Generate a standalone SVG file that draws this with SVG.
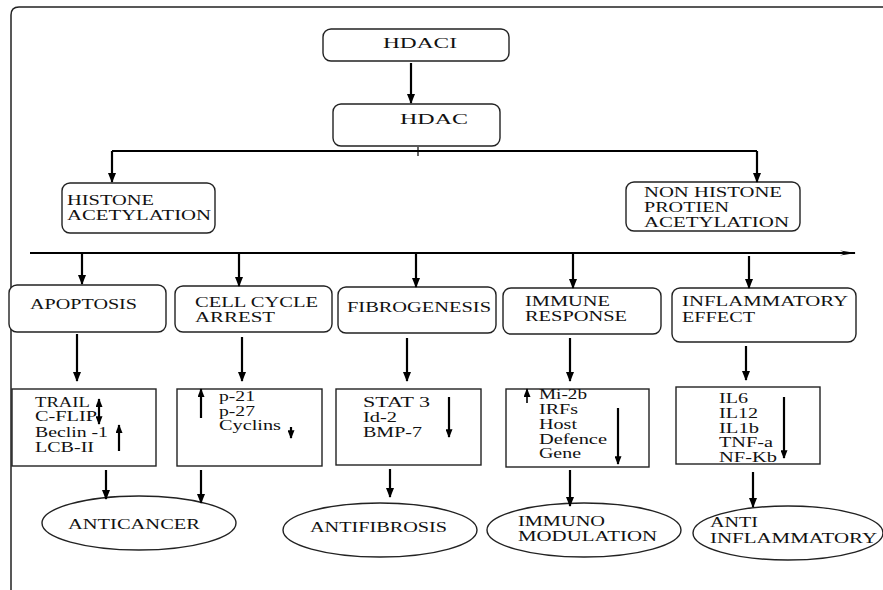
<svg xmlns="http://www.w3.org/2000/svg" width="883" height="590" viewBox="0 0 883 590">
<defs>
<marker id="ah" viewBox="0 0 10 8" refX="9" refY="4" markerWidth="10" markerHeight="8" markerUnits="userSpaceOnUse" orient="auto-start-reverse">
<path d="M0,0 L10,4 L0,8 z" fill="#000"/>
</marker>
<marker id="ahs" viewBox="0 0 10 8" refX="9" refY="4" markerWidth="9" markerHeight="7" markerUnits="userSpaceOnUse" orient="auto-start-reverse">
<path d="M0,0 L10,4 L0,8 z" fill="#000"/>
</marker>
<marker id="open" viewBox="0 0 16 6" refX="15" refY="3" markerWidth="16" markerHeight="6" markerUnits="userSpaceOnUse" orient="auto">
<path d="M0,0.5 L16,3 L0,5.5 L6,3 z" fill="#000"/>
</marker>
</defs>
<style>
.box{fill:#fff;stroke:#222;stroke-width:1.4}
.sq{fill:#fff;stroke:#222;stroke-width:1.4}
text{font-family:'Liberation Serif','DejaVu Serif',serif;font-size:14px;fill:#111}
.c line,.c path{stroke:#000;stroke-width:2.2;fill:none}
.a{marker-end:url(#ah)}
.s{marker-end:url(#ahs)}
</style>
<path d="M11,590 L11,15 Q11,7 19,7 L883,7" fill="none" stroke="#222" stroke-width="1.5"/>

<g id="hdaci"><rect class="box" x="323" y="29" width="186" height="32" rx="8"/><text x="383" y="48" textLength="74" lengthAdjust="spacingAndGlyphs" font-size="16">HDACI</text></g>
<g id="hdac"><rect class="box" x="333" y="104" width="167" height="42" rx="8"/><text x="400" y="124" textLength="68" lengthAdjust="spacingAndGlyphs" font-size="16">HDAC</text></g>
<g id="histone"><rect class="box" x="62" y="183" width="153" height="50" rx="8"/><text x="67" y="205" textLength="87" lengthAdjust="spacingAndGlyphs">HISTONE</text><text x="67" y="220" textLength="144" lengthAdjust="spacingAndGlyphs">ACETYLATION</text></g>
<g id="nonhistone"><rect class="box" x="626" y="182" width="174" height="49" rx="8"/><text x="644" y="197" textLength="138" lengthAdjust="spacingAndGlyphs">NON HISTONE</text><text x="644" y="212" textLength="85" lengthAdjust="spacingAndGlyphs">PROTIEN</text><text x="644" y="227" textLength="145" lengthAdjust="spacingAndGlyphs">ACETYLATION</text></g>

<g id="apoptosis"><rect class="box" x="9" y="285" width="157" height="47" rx="8"/><text x="30" y="309" textLength="107" lengthAdjust="spacingAndGlyphs">APOPTOSIS</text></g>
<g id="cellcycle"><rect class="box" x="175" y="286" width="157" height="46" rx="8"/><text x="195" y="307" textLength="123" lengthAdjust="spacingAndGlyphs">CELL CYCLE</text><text x="195" y="322" textLength="80" lengthAdjust="spacingAndGlyphs">ARREST</text></g>
<g id="fibrogenesis"><rect class="box" x="338" y="287" width="158" height="46" rx="8"/><text x="347" y="312" textLength="144" lengthAdjust="spacingAndGlyphs">FIBROGENESIS</text></g>
<g id="immune"><rect class="box" x="503" y="288" width="158" height="46" rx="8"/><text x="525" y="306" textLength="85" lengthAdjust="spacingAndGlyphs">IMMUNE</text><text x="525" y="321" textLength="102" lengthAdjust="spacingAndGlyphs">RESPONSE</text></g>
<g id="inflammatory"><rect class="box" x="672" y="288" width="184" height="54" rx="8"/><text x="682" y="306" textLength="166" lengthAdjust="spacingAndGlyphs">INFLAMMATORY</text><text x="682" y="322" textLength="73" lengthAdjust="spacingAndGlyphs">EFFECT</text></g>

<g id="box-apoptosis"><rect class="sq" x="12" y="389" width="144" height="77"/>
<text x="35" y="407" textLength="55" lengthAdjust="spacingAndGlyphs">TRAIL</text>
<text x="35" y="421" textLength="62" lengthAdjust="spacingAndGlyphs">C-FLIP</text>
<text x="35" y="437" textLength="73" lengthAdjust="spacingAndGlyphs">Beclin -1</text>
<text x="35" y="452" textLength="59" lengthAdjust="spacingAndGlyphs">LCB-II</text></g>
<g id="box-cellcycle"><rect class="sq" x="177" y="389" width="145" height="77"/>
<text x="219" y="401" textLength="36" lengthAdjust="spacingAndGlyphs">p-21</text>
<text x="219" y="416" textLength="36" lengthAdjust="spacingAndGlyphs">p-27</text>
<text x="219" y="430" textLength="62" lengthAdjust="spacingAndGlyphs">Cyclins</text></g>
<g id="box-fibro"><rect class="sq" x="336" y="389" width="145" height="76"/>
<text x="363" y="407" textLength="67" lengthAdjust="spacingAndGlyphs">STAT 3</text>
<text x="363" y="422" textLength="34" lengthAdjust="spacingAndGlyphs">Id-2</text>
<text x="363" y="437" textLength="59" lengthAdjust="spacingAndGlyphs">BMP-7</text></g>
<g id="box-immune"><rect class="sq" x="506" y="389" width="143" height="78"/>
<text x="539" y="399" textLength="48" lengthAdjust="spacingAndGlyphs">Mi-2b</text>
<text x="539" y="414" textLength="39" lengthAdjust="spacingAndGlyphs">IRFs</text>
<text x="539" y="429" textLength="38" lengthAdjust="spacingAndGlyphs">Host</text>
<text x="539" y="444" textLength="68" lengthAdjust="spacingAndGlyphs">Defence</text>
<text x="539" y="458" textLength="42" lengthAdjust="spacingAndGlyphs">Gene</text></g>
<g id="box-inflam"><rect class="sq" x="676" y="387" width="144" height="77"/>
<text x="719" y="403" textLength="29" lengthAdjust="spacingAndGlyphs">IL6</text>
<text x="719" y="418" textLength="39" lengthAdjust="spacingAndGlyphs">IL12</text>
<text x="719" y="433" textLength="40" lengthAdjust="spacingAndGlyphs">IL1b</text>
<text x="719" y="447" textLength="54" lengthAdjust="spacingAndGlyphs">TNF-a</text>
<text x="719" y="462" textLength="58" lengthAdjust="spacingAndGlyphs">NF-Kb</text></g>

<g id="anticancer"><ellipse class="box" cx="139" cy="523" rx="97" ry="27"/><text x="68" y="529" textLength="132" lengthAdjust="spacingAndGlyphs">ANTICANCER</text></g>
<g id="antifibrosis"><ellipse class="box" cx="380" cy="530" rx="97" ry="27"/><text x="310" y="532" textLength="137" lengthAdjust="spacingAndGlyphs">ANTIFIBROSIS</text></g>
<g id="immunomodulation"><ellipse class="box" cx="584" cy="530" rx="97" ry="27"/><text x="518" y="526" textLength="87" lengthAdjust="spacingAndGlyphs">IMMUNO</text><text x="518" y="541" textLength="139" lengthAdjust="spacingAndGlyphs">MODULATION</text></g>
<g id="antiinflammatory"><ellipse class="box" cx="788" cy="533" rx="95" ry="27"/><text x="710" y="527" textLength="48" lengthAdjust="spacingAndGlyphs">ANTI</text><text x="710" y="543" textLength="167" lengthAdjust="spacingAndGlyphs">INFLAMMATORY</text></g>

<g class="c" id="connectors">
<line class="a" x1="411" y1="63" x2="411" y2="103"/>
<path d="M112,151 L757,151"/>
<line class="a" x1="112" y1="151" x2="112" y2="182"/>
<line class="a" x1="757" y1="151" x2="757" y2="182"/>
<line x1="418" y1="147" x2="418" y2="156" style="stroke-width:1.2"/>
<line x1="30" y1="253" x2="855" y2="253" style="marker-end:url(#open)"/>
<line class="a" x1="82" y1="254" x2="82" y2="284"/>
<line class="a" x1="239" y1="254" x2="239" y2="286"/>
<line class="a" x1="416" y1="254" x2="416" y2="287"/>
<line class="a" x1="573" y1="254" x2="573" y2="288"/>
<line class="a" x1="749" y1="256" x2="749" y2="288"/>
<line class="a" x1="77" y1="334" x2="77" y2="381"/>
<line class="a" x1="242" y1="337" x2="242" y2="381"/>
<line class="a" x1="407" y1="338" x2="407" y2="381"/>
<line class="a" x1="570" y1="338" x2="570" y2="381"/>
<line class="a" x1="746" y1="346" x2="746" y2="380"/>
<line class="s" x1="99" y1="399" x2="99" y2="424" style="marker-start:url(#ahs)"/>
<line class="s" x1="119" y1="451" x2="119" y2="425"/>
<line class="s" x1="201" y1="418" x2="201" y2="389"/>
<line class="s" x1="291" y1="427" x2="291" y2="438"/>
<line class="s" x1="449" y1="397" x2="449" y2="437"/>
<line class="s" x1="527" y1="403" x2="527" y2="389" style="stroke-width:1.6"/>
<line class="s" x1="618" y1="408" x2="618" y2="464"/>
<line class="s" x1="784" y1="397" x2="784" y2="458"/>
<line class="a" x1="106" y1="470" x2="106" y2="499"/>
<line class="a" x1="201" y1="470" x2="201" y2="503"/>
<line class="a" x1="390" y1="469" x2="390" y2="497"/>
<line class="a" x1="570" y1="470" x2="570" y2="506"/>
<line class="a" x1="753" y1="472" x2="753" y2="507"/>
</g>
</svg>
